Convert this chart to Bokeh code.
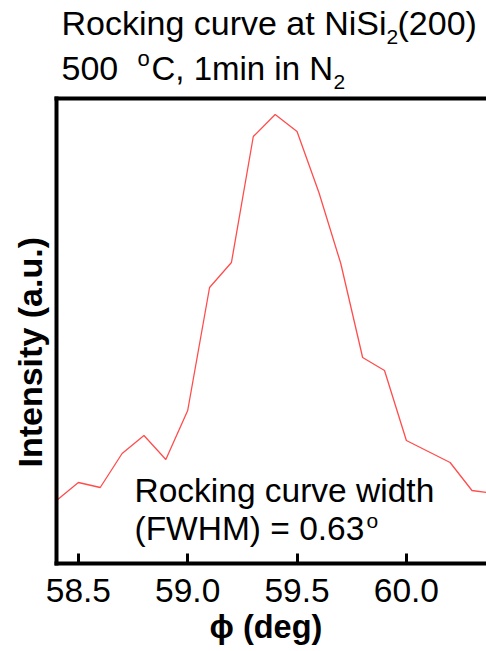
from bokeh.plotting import figure
from bokeh.layouts import column
from bokeh.models import Range1d, FixedTicker, LinearAxis, Label, Title, ColumnDataSource
from bokeh.embed import file_html
from bokeh.resources import INLINE

# ---- data ----
phi = [58.4, 58.5, 58.6, 58.7, 58.8, 58.9, 59.0, 59.1, 59.2, 59.3, 59.4,
       59.5, 59.6, 59.7, 59.8, 59.9, 60.0, 60.1, 60.2, 60.3, 60.4]
intensity = [63, 81, 76, 110, 128, 104, 153, 276, 301, 427, 449,
             432, 371, 300, 206, 193, 123, 112, 101, 73, 70]
tick_values = [58.5, 59.0, 59.5, 60.0]
tick_labels = ["58.5", "59.0", "59.5", "60.0"]

FONT = "Liberation Sans"
W = 486
HEAD_H = 94
MAIN_H = 651 - HEAD_H
LEFT, TOP, FRAME_H = 56, 4, 465
FRAME_W = W - LEFT
PPX = 218.67                             # pixels per degree
X0 = 58.4
x_end = X0 + FRAME_W / PPX
BL = 0.35                                # baseline correction (fraction of size)

# ---------------- header (title lines) ----------------
# the column aligns this frame with the main frame (left edge at 56 px),
# so the x range is chosen to make data units equal page pixels
head = figure(width=W, height=HEAD_H, output_backend="svg", toolbar_location=None,
              x_range=Range1d(LEFT, W), y_range=Range1d(HEAD_H, 0),
              x_axis_type=None, y_axis_type=None,
              min_border=0, min_border_left=LEFT, min_border_right=0,
              min_border_top=0, min_border_bottom=0)
head.outline_line_color = None
head.xgrid.visible = False
head.ygrid.visible = False


def hlab(fig, text, px, py, size, bold=False):
    fig.add_layout(Label(x=px, y=py - BL * size, text=text, text_font=FONT,
                         text_font_size=f"{size}px", text_align="left",
                         text_baseline="alphabetic",
                         text_font_style="bold" if bold else "normal",
                         text_color="black"))


hlab(head, "Rocking curve at NiSi", 61, 34, 34)
hlab(head, "2", 386, 43.5, 21)
hlab(head, "(200)", 397, 34, 34)
hlab(head, "500", 61, 79.5, 34)
hlab(head, "o", 137, 66, 22)
hlab(head, "C, 1min in N", 151, 79.5, 33)
hlab(head, "2", 333, 89, 21)

# ---------------- main plot ----------------
p = figure(width=W, height=MAIN_H, output_backend="svg", toolbar_location=None,
           x_range=Range1d(X0, x_end), y_range=Range1d(0, FRAME_H),
           min_border_left=LEFT, min_border_right=0, min_border_top=TOP,
           min_border_bottom=MAIN_H - TOP - FRAME_H)
p.outline_line_color = None
p.xgrid.visible = False
p.ygrid.visible = False

src = ColumnDataSource(dict(phi=phi, intensity=intensity))
p.line("phi", "intensity", source=src, line_color="#ff4d4d", line_width=1.3)

xa = p.xaxis[0]
xa.ticker = FixedTicker(ticks=tick_values)
xa.major_label_overrides = {v: s for v, s in zip(tick_values, tick_labels)}
xa.axis_line_width = 4
xa.axis_line_cap = "square"
xa.major_tick_in = 10
xa.major_tick_out = 0
xa.major_tick_line_width = 3
xa.minor_tick_line_color = None
xa.major_label_text_font = FONT
xa.major_label_text_font_size = "33.5px"
xa.major_label_text_color = "black"
xa.major_label_standoff = 15

ya = p.yaxis[0]
ya.ticker = FixedTicker(ticks=[])
ya.axis_line_width = 4
ya.axis_line_cap = "square"
ya.major_tick_line_color = None
ya.minor_tick_line_color = None

ta = LinearAxis(axis_line_width=4, axis_line_cap="square",
                ticker=FixedTicker(ticks=[]),
                major_tick_line_color=None, minor_tick_line_color=None)
p.add_layout(ta, "above")

# axis titles
p.add_layout(Title(text="Intensity (a.u.)", align="left", offset=96,
                   text_font=FONT, text_font_size="34px", text_font_style="bold",
                   text_color="black", standoff=16), "left")
p.add_layout(Title(text="\u03d5 (deg)", align="left", offset=153,
                   text_font=FONT, text_font_size="32.5px", text_font_style="bold",
                   text_color="black", standoff=5), "below")


# annotation inside the frame (data y grows upward)
def alab(text, px, py, size):
    p.add_layout(Label(x=X0 + (px - 56) / PPX, y=(563 - py) + BL * size,
                       text=text, text_font=FONT, text_font_size=f"{size}px",
                       text_align="left", text_baseline="alphabetic",
                       text_color="black"))


alab("Rocking curve width", 134, 502, 33.5)
alab("(FWHM) = 0.63", 134, 540, 33.5)
alab("o", 366, 527, 21)

open("out.html", "w").write(file_html(column(head, p, spacing=0), INLINE))
